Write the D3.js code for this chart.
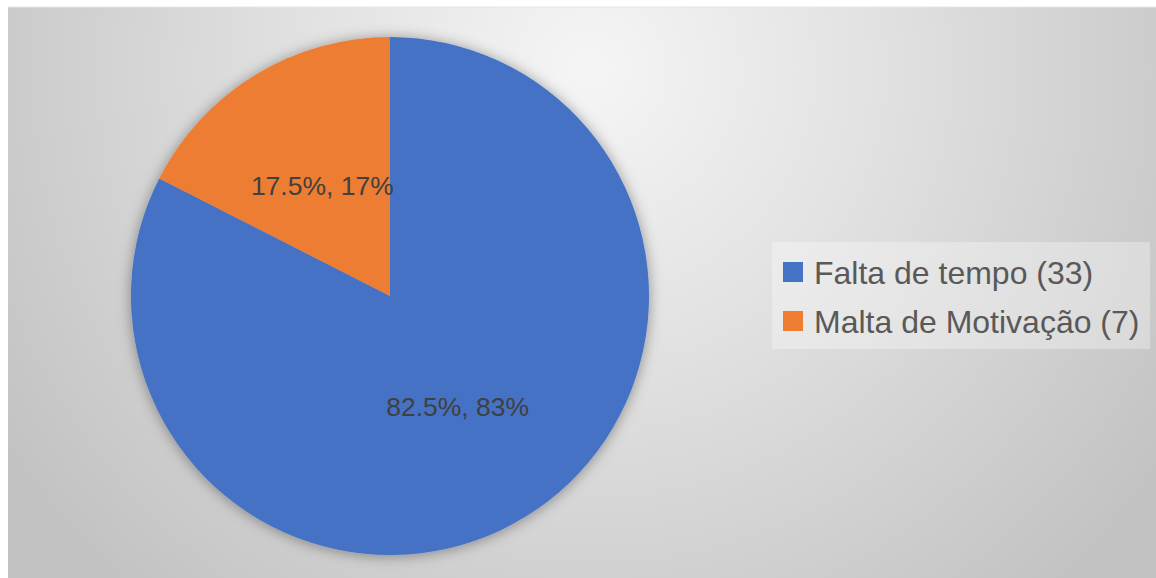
<!DOCTYPE html>
<html>
<head>
<meta charset="utf-8">
<script src="https://cdn.jsdelivr.net/npm/d3@7"></script>
<style>
  html, body { margin: 0; padding: 0; background: #ffffff; }
  svg { display: block; }
</style>
</head>
<body>
<svg id="chart" width="1156" height="578"></svg>
<script>
// Reasons given, with respondent counts
const categories = ["Falta de tempo", "Malta de Motivação"];
const counts = [33, 7];
const pctLabels = ["82.5%", "17.5%"];
const roundedLabels = ["83%", "17%"];
const colors = ["#4472C4", "#ED7D31"];

const W = 1156, H = 578;
const svg = d3.select("#chart");
const defs = svg.append("defs");

// soft grey radial backdrop
const bg = defs.append("radialGradient")
  .attr("id", "bgGrad")
  .attr("gradientUnits", "userSpaceOnUse")
  .attr("cx", 590).attr("cy", 70).attr("r", 700);
bg.append("stop").attr("offset", "0%").attr("stop-color", "#f5f5f5");
bg.append("stop").attr("offset", "40%").attr("stop-color", "#e2e2e2");
bg.append("stop").attr("offset", "100%").attr("stop-color", "#c2c2c2");

const shadow = defs.append("filter").attr("id", "pieShadow")
  .attr("x", "-20%").attr("y", "-20%").attr("width", "140%").attr("height", "140%");
shadow.append("feDropShadow")
  .attr("dx", 0).attr("dy", 1).attr("stdDeviation", 7)
  .attr("flood-color", "#000").attr("flood-opacity", 0.38);

// chart area
svg.append("rect")
  .attr("x", 8).attr("y", 7).attr("width", W - 8).attr("height", H - 7)
  .attr("fill", "url(#bgGrad)");
svg.append("line")
  .attr("x1", 8).attr("x2", W).attr("y1", 7).attr("y2", 7)
  .attr("stroke", "#e6e6e6").attr("stroke-width", 1);

// pie
const cx = 390, cy = 296, R = 259;
const pie = d3.pie().sort(null).value(d => d)
  .startAngle(0).endAngle(2 * Math.PI);
const arcs = pie(counts);
const arc = d3.arc().innerRadius(0).outerRadius(R);

const g = svg.append("g").attr("transform", `translate(${cx},${cy})`);
g.append("g").attr("filter", "url(#pieShadow)")
  .selectAll("path")
  .data(arcs)
  .join("path")
  .attr("d", arc)
  .attr("fill", (d, i) => colors[i]);

// data labels at the slice centroids
g.selectAll("text.lbl")
  .data(arcs)
  .join("text")
  .attr("class", "lbl")
  .attr("transform", d => `translate(${arc.centroid(d)})`)
  .attr("text-anchor", "middle")
  .attr("dy", "0.36em")
  .attr("font-family", "Liberation Sans, Arial, sans-serif")
  .attr("font-size", 26.5)
  .attr("fill", "#404040")
  .text((d, i) => `${pctLabels[i]}, ${roundedLabels[i]}`);

// legend
const lg = svg.append("g").attr("transform", "translate(772,242)");
lg.append("rect")
  .attr("width", 378).attr("height", 107)
  .attr("fill", "#ffffff").attr("fill-opacity", 0.32);
const item = lg.selectAll("g.item")
  .data(categories)
  .join("g")
  .attr("class", "item")
  .attr("transform", (d, i) => `translate(11,${20 + i * 49})`);
item.append("rect")
  .attr("width", 20).attr("height", 20)
  .attr("fill", (d, i) => colors[i]);
item.append("text")
  .attr("x", 31).attr("y", 10)
  .attr("dy", "0.36em")
  .attr("font-family", "Liberation Sans, Arial, sans-serif")
  .attr("font-size", 32)
  .attr("fill", "#595959")
  .text((d, i) => `${d} (${counts[i]})`);
</script>
</body>
</html>
